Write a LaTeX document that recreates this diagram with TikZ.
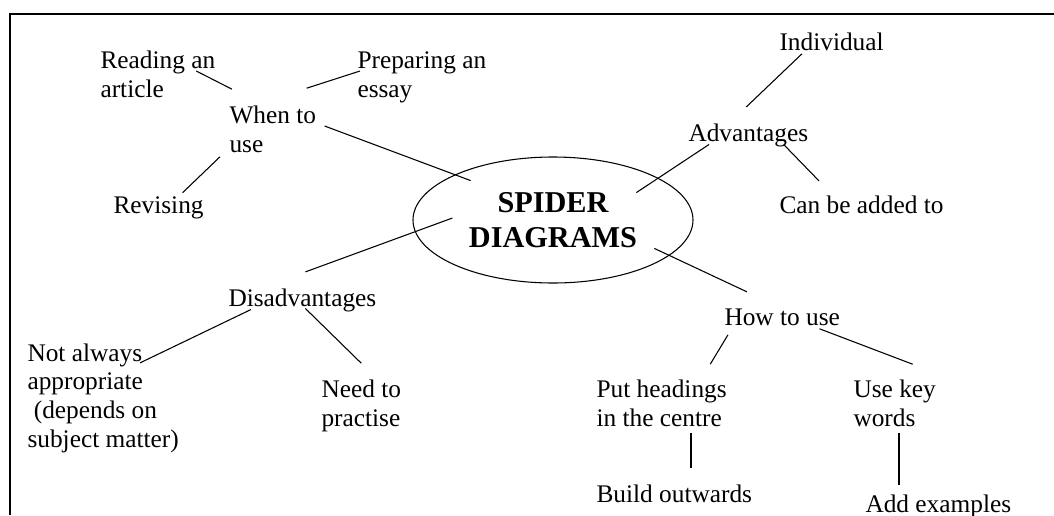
\documentclass[tikz,border=0pt]{standalone}
\usepackage{fontspec}
\setmainfont{Liberation Serif}
\usetikzlibrary{shapes.geometric}

\begin{document}
\begin{tikzpicture}[x=0.75pt,y=-0.75pt,line width=0.8pt,
  idea/.style={inner sep=0pt,anchor=base west,align=left,font=\fontsize{19}{21.5}\selectfont},
  tema/.style={draw,ellipse,inner sep=0pt,minimum width=210pt,minimum height=94.5pt,align=center,font=\fontsize{22.7}{26.25}\selectfont\bfseries},]
		\useasboundingbox (0,0) rectangle (1054,515);
		\draw[line width=1.3pt] (10,515) -- (10,14) -- (1054,14);

		% base of a node = baseline of its last line
		\node[tema] (spider) at (553,220) {SPIDER\\DIAGRAMS};
		\node[idea] (read) at (100,97) {Reading an\\article};
		\node[idea] (prep) at (357,97) {Preparing an\\essay};
		\node[idea] (when) at (229,152) {When to\\use};
		\node[idea] (rev) at (113,213) {Revising};
		\node[idea] (indiv) at (779,50) {Individual};
		\node[idea] (adv) at (688,141) {Advantages};
		\node[idea] (can) at (779,213) {Can be added to};
		\node[idea] (dis) at (228,306) {Disadvantages};
		\node[idea] (notal) at (27,447) {Not always\\appropriate\\\ (depends on\\subject matter)};
		\node[idea] (need) at (321,426) {Need to\\practise};
		\node[idea] (how) at (724,325) {How to use};
		\node[idea] (put) at (596,426) {Put headings\\in the centre};
		\node[idea] (build) at (596,502) {Build outwards};
		\node[idea] (usek) at (853,426) {Use key\\words};
		\node[idea] (addex) at (865,512) {Add examples};

		\draw ([shift={(-19.5,-3)}]read.east) -- ([shift={(3,-16)}]when.north west);
		\draw ([shift={(3,-6)}]prep.west) -- ([shift={(-10,-17)}]when.north east);
		\draw ([shift={(8,-3)}]when.east) -- ([shift={(17,5.5)}]spider.north west);
		\draw ([shift={(24,-3)}]rev.north) -- ([shift={(-9,4)}]when.south west);
		\draw ([shift={(3,-16)}]dis.north) -- ([shift={(40,-2)}]spider.west);
		\draw ([shift={(21,-2.5)}]adv.south west) -- ([shift={(-16,17.5)}]spider.north east);
		\draw ([shift={(23,3)}]indiv.south west) -- ([shift={(-2,-16)}]adv.north);
		\draw ([shift={(-25,-2.5)}]adv.south east) -- ([shift={(40,-14)}]can.north west);
		\draw ([shift={(2,-16.5)}]spider.south east) -- ([shift={(23,-16)}]how.north west);
		\draw ([shift={(4,9)}]how.south west) -- ([shift={(-17,-15)}]put.north east);
		\draw ([shift={(-21,3)}]how.south east) -- ([shift={(18,-15)}]usek.north);
		\draw ([shift={(95,6)}]put.south west) -- ([shift={(95,-16)}]build.north west);
		\draw ([shift={(46,6)}]usek.south west) -- ([shift={(34,-9)}]addex.north west);
		\draw ([shift={(23,-2.5)}]dis.south west) -- ([shift={(113,20)}]notal.north west);
		\draw ([shift={(3,-3.5)}]dis.south) -- ([shift={(0,-16)}]need.north);
	\end{tikzpicture}
\end{document}
